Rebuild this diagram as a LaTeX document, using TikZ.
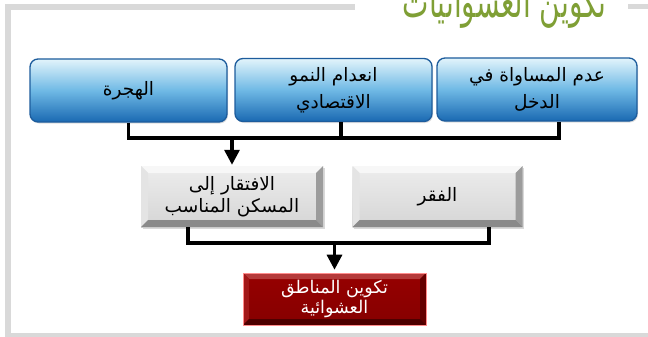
\documentclass[tikz,border=0pt]{standalone}
\usepackage{fontspec}
\usetikzlibrary{arrows.meta,shadows}
\TeXXeTstate=1
\newfontfamily\arabicfont[Script=Arabic]{DejaVu Sans}
\definecolor{framegray}{HTML}{D9D9D9}
\definecolor{titlegreen}{HTML}{7F9F35}
\definecolor{bluetop}{HTML}{E2F4FB}
\definecolor{bluemid}{HTML}{6FB9E5}
\definecolor{bluebot}{HTML}{1A69B2}
\definecolor{blueedge}{HTML}{1D5C9C}
\definecolor{gface1}{HTML}{EDEDED}
\definecolor{gface2}{HTML}{D5D5D5}
\definecolor{gtop}{HTML}{F7F7F7}
\definecolor{gleft}{HTML}{E4E4E4}
\definecolor{gright}{HTML}{9C9C9C}
\definecolor{gbot}{HTML}{8A8A8A}
\definecolor{rface1}{HTML}{960000}
\definecolor{rface2}{HTML}{860000}
\definecolor{rtop}{HTML}{B53A3A}
\definecolor{rleft}{HTML}{A31818}
\definecolor{rright}{HTML}{650000}
\definecolor{rbot}{HTML}{4E0000}
\tikzset{
  bevelpic/.style n args={5}{path picture={
    \fill[#1] (path picture bounding box.north west) -- (path picture bounding box.north east)
      -- ([shift={(-#5,-#5)}]path picture bounding box.north east) -- ([shift={(#5,-#5)}]path picture bounding box.north west) -- cycle;
    \fill[#2] (path picture bounding box.north west) -- (path picture bounding box.south west)
      -- ([shift={(#5,#5)}]path picture bounding box.south west) -- ([shift={(#5,-#5)}]path picture bounding box.north west) -- cycle;
    \fill[#3] (path picture bounding box.north east) -- (path picture bounding box.south east)
      -- ([shift={(-#5,#5)}]path picture bounding box.south east) -- ([shift={(-#5,-#5)}]path picture bounding box.north east) -- cycle;
    \fill[#4] (path picture bounding box.south west) -- (path picture bounding box.south east)
      -- ([shift={(-#5,#5)}]path picture bounding box.south east) -- ([shift={(#5,#5)}]path picture bounding box.south west) -- cycle;
  }},
  bluebox/.style={rounded corners=8pt, draw=blueedge, line width=1.3pt,
    top color=bluetop, bottom color=bluebot, middle color=bluemid,
    minimum height=63pt, inner sep=0pt, align=center, text=black,
    font=\arabicfont\fontsize{18.5}{27}\selectfont,
    drop shadow={opacity=0.25, shadow xshift=1pt, shadow yshift=-1.5pt}},
  graybox/.style={top color=gface1, bottom color=gface2,
    bevelpic={gtop}{gleft}{gright}{gbot}{7pt},
    minimum height=61pt, inner sep=0pt, align=center, text=black,
    font=\arabicfont\fontsize{18.5}{22}\selectfont,
    drop shadow={opacity=0.3, shadow xshift=1.5pt, shadow yshift=-2pt}},
  redbox/.style={top color=rface1, bottom color=rface2,
    bevelpic={rtop}{rleft}{rright}{rbot}{6pt},
    draw=red!45!white, line width=0.6pt,
    minimum height=52pt, inner sep=0pt, align=center, text=white,
    font=\arabicfont\fontsize{17.5}{20}\selectfont},
  conn/.style={line width=3.2pt, black},
  arr/.style={conn, -{Triangle[width=15pt,length=15pt]}}
}
\begin{document}
\begin{tikzpicture}[x=1pt,y=-1pt]
\useasboundingbox (0,0) rectangle (648,337);
\clip (0,0) rectangle (648,337);
% frame
\fill[framegray] (5,4) rectangle (11,337);
\fill[framegray] (5,4) rectangle (355,10);
\fill[framegray] (628,4) rectangle (648,9);
\fill[framegray] (5,333) rectangle (648,337);
% title (cut off at the top edge, as in the reference)
\node[anchor=base east, inner sep=0pt, text=titlegreen, font=\arabicfont\fontsize{28}{32}\selectfont] (title) at (607,18) {\scalebox{1}[1.6]{\beginR تكوين العشوائيات\endR}};
% top row
\node[bluebox, minimum width=197pt] (b1) at (128.5,90.5) {\beginR الهجرة\endR};
\node[bluebox, minimum width=197pt] (b2) at (333.5,90) {\beginR انعدام النمو\endR\\\beginR الاقتصادي\endR};
\node[bluebox, minimum width=200pt] (b3) at (537,89.5) {\beginR عدم المساواة في\endR\\\beginR الدخل\endR};
% middle row
\node[graybox, minimum width=182pt] (g1) at (232,196.5) {\beginR الافتقار إلى\endR\\\beginR المسكن المناسب\endR};
\node[graybox, minimum width=170pt] (g2) at (437.5,196.5) {\beginR الفقر\endR};
% bottom
\node[redbox, minimum width=183pt] (r1) at (334.5,299) {\beginR تكوين المناطق\endR\\\beginR العشوائية\endR};
% connectors
\coordinate (jt) at (232,138);
\coordinate (jm) at (334.5,243);
\draw[conn] (b1.south) |- (jt) -| ([xshift=22pt]b3.south);
\draw[conn] ([xshift=7.5pt]b2.south) -- ([xshift=7.5pt]b2.south |- jt);
\draw[arr] (jt) -- ([yshift=1pt]g1.north);
\draw[conn] ([xshift=-44pt]g1.south) |- (jm) -| ([xshift=51.5pt]g2.south);
\draw[arr] (jm) -- ([yshift=3pt]r1.north);
\end{tikzpicture}
\end{document}
